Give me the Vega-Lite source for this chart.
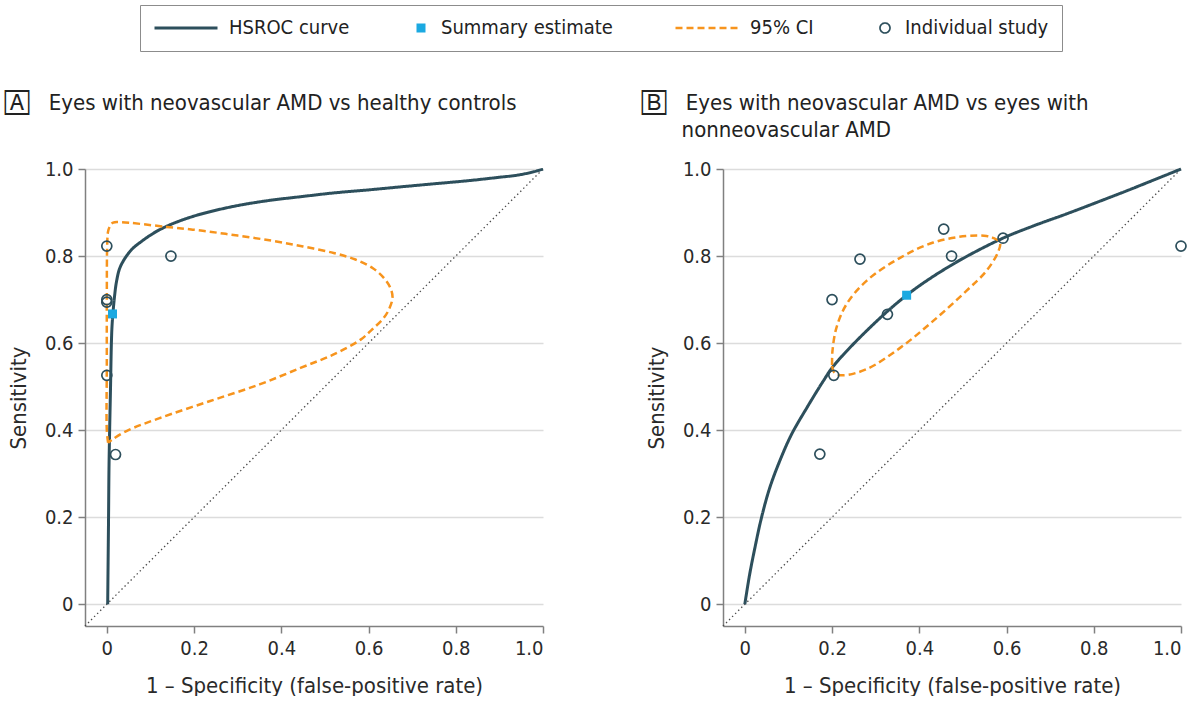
{
  "$schema": "https://vega.github.io/schema/vega-lite/v6.json",
  "background": "white",
  "padding": {"left": 5, "top": 4, "right": 0, "bottom": 0},
  "config": {
    "font": "DejaVu Sans Condensed, DejaVu Sans, sans-serif",
    "view": {"stroke": null},
    "axis": {
      "domainColor": "#808080",
      "domainWidth": 1.5,
      "tickColor": "#808080",
      "tickWidth": 1.5,
      "tickSize": 7,
      "labelFontSize": 20,
      "labelColor": "#2a2a2a",
      "labelPadding": 5,
      "titleFontSize": 22,
      "titleFontWeight": "normal",
      "titleColor": "#2a2a2a",
      "gridColor": "#dcdcdc",
      "gridWidth": 1.5
    },
    "axisX": {"grid": false, "titlePadding": 17},
    "axisY": {"grid": true, "titlePadding": 14},
    "title": {
      "fontSize": 22,
      "fontWeight": "normal",
      "color": "#222222",
      "anchor": "start",
      "frame": "group"
    }
  },
  "data": {
    "values": [
      {"p": "A", "s": "diagonal", "i": 0, "x": -0.05, "y": -0.05},
      {"p": "A", "s": "diagonal", "i": 1, "x": 1, "y": 1},
      {"p": "B", "s": "diagonal", "i": 0, "x": -0.05, "y": -0.05},
      {"p": "B", "s": "diagonal", "i": 1, "x": 1, "y": 1},

      {"p": "A", "s": "HSROC curve", "i": 0, "x": 0.002, "y": 0},
      {"p": "A", "s": "HSROC curve", "i": 1, "x": 0.003, "y": 0.1},
      {"p": "A", "s": "HSROC curve", "i": 2, "x": 0.004, "y": 0.2},
      {"p": "A", "s": "HSROC curve", "i": 3, "x": 0.005, "y": 0.313},
      {"p": "A", "s": "HSROC curve", "i": 4, "x": 0.0065, "y": 0.4},
      {"p": "A", "s": "HSROC curve", "i": 5, "x": 0.0085, "y": 0.497},
      {"p": "A", "s": "HSROC curve", "i": 6, "x": 0.0105, "y": 0.6},
      {"p": "A", "s": "HSROC curve", "i": 7, "x": 0.012, "y": 0.64},
      {"p": "A", "s": "HSROC curve", "i": 8, "x": 0.0145, "y": 0.674},
      {"p": "A", "s": "HSROC curve", "i": 9, "x": 0.018, "y": 0.71},
      {"p": "A", "s": "HSROC curve", "i": 10, "x": 0.022, "y": 0.74},
      {"p": "A", "s": "HSROC curve", "i": 11, "x": 0.03, "y": 0.773},
      {"p": "A", "s": "HSROC curve", "i": 12, "x": 0.045, "y": 0.8},
      {"p": "A", "s": "HSROC curve", "i": 13, "x": 0.06, "y": 0.818},
      {"p": "A", "s": "HSROC curve", "i": 14, "x": 0.08, "y": 0.834},
      {"p": "A", "s": "HSROC curve", "i": 15, "x": 0.1, "y": 0.848},
      {"p": "A", "s": "HSROC curve", "i": 16, "x": 0.122, "y": 0.861},
      {"p": "A", "s": "HSROC curve", "i": 17, "x": 0.16, "y": 0.878},
      {"p": "A", "s": "HSROC curve", "i": 18, "x": 0.214, "y": 0.896},
      {"p": "A", "s": "HSROC curve", "i": 19, "x": 0.29, "y": 0.914},
      {"p": "A", "s": "HSROC curve", "i": 20, "x": 0.367, "y": 0.927},
      {"p": "A", "s": "HSROC curve", "i": 21, "x": 0.45, "y": 0.937},
      {"p": "A", "s": "HSROC curve", "i": 22, "x": 0.52, "y": 0.945},
      {"p": "A", "s": "HSROC curve", "i": 23, "x": 0.6, "y": 0.952},
      {"p": "A", "s": "HSROC curve", "i": 24, "x": 0.674, "y": 0.959},
      {"p": "A", "s": "HSROC curve", "i": 25, "x": 0.75, "y": 0.966},
      {"p": "A", "s": "HSROC curve", "i": 26, "x": 0.827, "y": 0.973},
      {"p": "A", "s": "HSROC curve", "i": 27, "x": 0.9, "y": 0.981},
      {"p": "A", "s": "HSROC curve", "i": 28, "x": 0.942, "y": 0.986},
      {"p": "A", "s": "HSROC curve", "i": 29, "x": 0.98, "y": 0.994},
      {"p": "A", "s": "HSROC curve", "i": 30, "x": 1.0, "y": 1.0},

      {"p": "A", "s": "95% CI", "i": 0, "x": 0.003, "y": 0.371},
      {"p": "A", "s": "95% CI", "i": 1, "x": 0.0, "y": 0.4},
      {"p": "A", "s": "95% CI", "i": 2, "x": 0.0, "y": 0.55},
      {"p": "A", "s": "95% CI", "i": 3, "x": 0.0, "y": 0.7},
      {"p": "A", "s": "95% CI", "i": 4, "x": 0.001, "y": 0.83},
      {"p": "A", "s": "95% CI", "i": 5, "x": 0.003, "y": 0.857},
      {"p": "A", "s": "95% CI", "i": 6, "x": 0.008, "y": 0.87},
      {"p": "A", "s": "95% CI", "i": 7, "x": 0.0145, "y": 0.877},
      {"p": "A", "s": "95% CI", "i": 8, "x": 0.03, "y": 0.878},
      {"p": "A", "s": "95% CI", "i": 9, "x": 0.137, "y": 0.867},
      {"p": "A", "s": "95% CI", "i": 10, "x": 0.22, "y": 0.858},
      {"p": "A", "s": "95% CI", "i": 11, "x": 0.3, "y": 0.847},
      {"p": "A", "s": "95% CI", "i": 12, "x": 0.38, "y": 0.835},
      {"p": "A", "s": "95% CI", "i": 13, "x": 0.45, "y": 0.822},
      {"p": "A", "s": "95% CI", "i": 14, "x": 0.52, "y": 0.807},
      {"p": "A", "s": "95% CI", "i": 15, "x": 0.57, "y": 0.792},
      {"p": "A", "s": "95% CI", "i": 16, "x": 0.61, "y": 0.772},
      {"p": "A", "s": "95% CI", "i": 17, "x": 0.635, "y": 0.75},
      {"p": "A", "s": "95% CI", "i": 18, "x": 0.65, "y": 0.727},
      {"p": "A", "s": "95% CI", "i": 19, "x": 0.655, "y": 0.705},
      {"p": "A", "s": "95% CI", "i": 20, "x": 0.648, "y": 0.68},
      {"p": "A", "s": "95% CI", "i": 21, "x": 0.635, "y": 0.658},
      {"p": "A", "s": "95% CI", "i": 22, "x": 0.61, "y": 0.633},
      {"p": "A", "s": "95% CI", "i": 23, "x": 0.582, "y": 0.608},
      {"p": "A", "s": "95% CI", "i": 24, "x": 0.52, "y": 0.574},
      {"p": "A", "s": "95% CI", "i": 25, "x": 0.444, "y": 0.543},
      {"p": "A", "s": "95% CI", "i": 26, "x": 0.35, "y": 0.505},
      {"p": "A", "s": "95% CI", "i": 27, "x": 0.237, "y": 0.467},
      {"p": "A", "s": "95% CI", "i": 28, "x": 0.122, "y": 0.428},
      {"p": "A", "s": "95% CI", "i": 29, "x": 0.045, "y": 0.398},
      {"p": "A", "s": "95% CI", "i": 30, "x": 0.012, "y": 0.378},
      {"p": "A", "s": "95% CI", "i": 31, "x": 0.003, "y": 0.371},

      {"p": "A", "s": "Individual study", "x": 0.0, "y": 0.823},
      {"p": "A", "s": "Individual study", "x": 0.0, "y": 0.7},
      {"p": "A", "s": "Individual study", "x": 0.0, "y": 0.694},
      {"p": "A", "s": "Individual study", "x": 0.0, "y": 0.526},
      {"p": "A", "s": "Individual study", "x": 0.02, "y": 0.344},
      {"p": "A", "s": "Individual study", "x": 0.147, "y": 0.8},
      {"p": "A", "s": "Summary estimate", "x": 0.013, "y": 0.667},

      {"p": "B", "s": "HSROC curve", "i": 0, "x": 0.0, "y": 0.0},
      {"p": "B", "s": "HSROC curve", "i": 1, "x": 0.011, "y": 0.068},
      {"p": "B", "s": "HSROC curve", "i": 2, "x": 0.023, "y": 0.129},
      {"p": "B", "s": "HSROC curve", "i": 3, "x": 0.038, "y": 0.198},
      {"p": "B", "s": "HSROC curve", "i": 4, "x": 0.057, "y": 0.267},
      {"p": "B", "s": "HSROC curve", "i": 5, "x": 0.08, "y": 0.329},
      {"p": "B", "s": "HSROC curve", "i": 6, "x": 0.107, "y": 0.39},
      {"p": "B", "s": "HSROC curve", "i": 7, "x": 0.142, "y": 0.451},
      {"p": "B", "s": "HSROC curve", "i": 8, "x": 0.18, "y": 0.513},
      {"p": "B", "s": "HSROC curve", "i": 9, "x": 0.203, "y": 0.547},
      {"p": "B", "s": "HSROC curve", "i": 10, "x": 0.279, "y": 0.628},
      {"p": "B", "s": "HSROC curve", "i": 11, "x": 0.371, "y": 0.71},
      {"p": "B", "s": "HSROC curve", "i": 12, "x": 0.47, "y": 0.777},
      {"p": "B", "s": "HSROC curve", "i": 13, "x": 0.585, "y": 0.838},
      {"p": "B", "s": "HSROC curve", "i": 14, "x": 0.661, "y": 0.869},
      {"p": "B", "s": "HSROC curve", "i": 15, "x": 0.738, "y": 0.897},
      {"p": "B", "s": "HSROC curve", "i": 16, "x": 0.814, "y": 0.926},
      {"p": "B", "s": "HSROC curve", "i": 17, "x": 0.891, "y": 0.956},
      {"p": "B", "s": "HSROC curve", "i": 18, "x": 1.0, "y": 1.0},

      {"p": "B", "s": "95% CI", "i": 0, "x": 0.2, "y": 0.547},
      {"p": "B", "s": "95% CI", "i": 1, "x": 0.206, "y": 0.531},
      {"p": "B", "s": "95% CI", "i": 2, "x": 0.225, "y": 0.526},
      {"p": "B", "s": "95% CI", "i": 3, "x": 0.279, "y": 0.54},
      {"p": "B", "s": "95% CI", "i": 4, "x": 0.356, "y": 0.589},
      {"p": "B", "s": "95% CI", "i": 5, "x": 0.432, "y": 0.651},
      {"p": "B", "s": "95% CI", "i": 6, "x": 0.508, "y": 0.72},
      {"p": "B", "s": "95% CI", "i": 7, "x": 0.554, "y": 0.766},
      {"p": "B", "s": "95% CI", "i": 8, "x": 0.581, "y": 0.81},
      {"p": "B", "s": "95% CI", "i": 9, "x": 0.585, "y": 0.831},
      {"p": "B", "s": "95% CI", "i": 10, "x": 0.569, "y": 0.842},
      {"p": "B", "s": "95% CI", "i": 11, "x": 0.554, "y": 0.846},
      {"p": "B", "s": "95% CI", "i": 12, "x": 0.508, "y": 0.846},
      {"p": "B", "s": "95% CI", "i": 13, "x": 0.432, "y": 0.831},
      {"p": "B", "s": "95% CI", "i": 14, "x": 0.356, "y": 0.796},
      {"p": "B", "s": "95% CI", "i": 15, "x": 0.279, "y": 0.743},
      {"p": "B", "s": "95% CI", "i": 16, "x": 0.233, "y": 0.689},
      {"p": "B", "s": "95% CI", "i": 17, "x": 0.21, "y": 0.635},
      {"p": "B", "s": "95% CI", "i": 18, "x": 0.201, "y": 0.582},
      {"p": "B", "s": "95% CI", "i": 19, "x": 0.2, "y": 0.547},

      {"p": "B", "s": "Individual study", "x": 0.2, "y": 0.7},
      {"p": "B", "s": "Individual study", "x": 0.264, "y": 0.793},
      {"p": "B", "s": "Individual study", "x": 0.204, "y": 0.526},
      {"p": "B", "s": "Individual study", "x": 0.327, "y": 0.666},
      {"p": "B", "s": "Individual study", "x": 0.456, "y": 0.862},
      {"p": "B", "s": "Individual study", "x": 0.474, "y": 0.8},
      {"p": "B", "s": "Individual study", "x": 0.592, "y": 0.841},
      {"p": "B", "s": "Individual study", "x": 0.172, "y": 0.345},
      {"p": "B", "s": "Individual study", "x": 1.0, "y": 0.823},
      {"p": "B", "s": "Summary estimate", "x": 0.371, "y": 0.71}
    ]
  },
  "bounds": "flush",
  "spacing": 180,
  "hconcat": [
    {
      "width": 458,
      "height": 457,
      "title": {"text": "🄰\u2003Eyes with neovascular AMD vs healthy controls", "dx": -80, "offset": 44},
      "transform": [{"filter": "datum.p === 'A'"}],
      "encoding": {
        "x": {"field": "x", "type": "quantitative", "scale": {"domain": [-0.05, 1], "nice": false, "zero": false},
              "axis": {"title": "1 – Specificity (false-positive rate)", "values": [0, 0.2, 0.4, 0.6, 0.8, 1], "labelExpr": "datum.value === 0 ? '0' : format(datum.value, '.1f')"}},
        "y": {"field": "y", "type": "quantitative", "scale": {"domain": [-0.05, 1], "nice": false, "zero": false},
              "axis": {"title": "Sensitivity", "values": [0, 0.2, 0.4, 0.6, 0.8, 1], "labelExpr": "datum.value === 0 ? '0' : format(datum.value, '.1f')"}}
      },
      "layer": [
        {
          "transform": [{"filter": "datum.s === 'diagonal'"}],
          "mark": {"type": "line", "color": "#4a4a4a", "strokeWidth": 1.3, "strokeDash": [1.4, 2.9]},
          "encoding": {"order": {"field": "i", "type": "quantitative"}}
        },
        {
          "transform": [{"filter": "datum.s === 'HSROC curve' || datum.s === '95% CI'"}],
          "mark": {"type": "line", "interpolate": "catmull-rom"},
          "encoding": {
            "order": {"field": "i", "type": "quantitative"},
            "stroke": {"field": "s", "type": "nominal",
                       "scale": {"domain": ["HSROC curve", "Summary estimate", "95% CI", "Individual study"], "range": ["#2d4f5c", "#1ba9e1", "#f7941d", "#2d4f5c"]},
                       "legend": {"title": null, "orient": "none", "legendX": 55, "legendY": -164, "direction": "horizontal",
                                  "padding": 13, "columnPadding": 61, "labelOffset": 10, "clipHeight": 20, "labelLimit": 400,
                                  "labelFontSize": 20, "labelColor": "#222222", "strokeColor": "#8c8c8c", "fillColor": "white"}},
            "strokeDash": {"field": "s", "type": "nominal",
                           "scale": {"domain": ["HSROC curve", "Summary estimate", "95% CI", "Individual study"], "range": [[1, 0], [1, 0], [7, 4], [1, 0]]}},
            "strokeWidth": {"field": "s", "type": "nominal",
                            "scale": {"type": "ordinal", "domain": ["HSROC curve", "Summary estimate", "95% CI", "Individual study"], "range": [3, 0, 2.5, 1.7]}}
          }
        },
        {
          "transform": [{"filter": "datum.s === 'Individual study' || datum.s === 'Summary estimate'"}],
          "mark": {"type": "point", "opacity": 1},
          "encoding": {
            "stroke": {"field": "s", "type": "nominal"},
            "strokeWidth": {"field": "s", "type": "nominal",
                            "scale": {"type": "ordinal", "domain": ["HSROC curve", "Summary estimate", "95% CI", "Individual study"], "range": [3, 0, 2.5, 1.7]}},
            "fill": {"field": "s", "type": "nominal",
                     "scale": {"domain": ["HSROC curve", "Summary estimate", "95% CI", "Individual study"], "range": ["transparent", "#1ba9e1", "transparent", "transparent"]}},
            "shape": {"field": "s", "type": "nominal",
                      "scale": {"domain": ["HSROC curve", "Summary estimate", "95% CI", "Individual study"], "range": ["stroke", "square", "stroke", "circle"]}},
            "size": {"field": "s", "type": "nominal",
                     "scale": {"type": "ordinal", "domain": ["HSROC curve", "Summary estimate", "95% CI", "Individual study"], "range": [3969, 81, 3969, 100]}}
          }
        }
      ]
    },
    {
      "width": 458,
      "height": 457,
      "title": {"text": ["🄱\u2003Eyes with neovascular AMD vs eyes with", "\u200d\u2003\u2003nonneovascular AMD"], "dx": -81, "offset": 17, "lineHeight": 27},
      "transform": [{"filter": "datum.p === 'B'"}],
      "encoding": {
        "x": {"field": "x", "type": "quantitative", "scale": {"domain": [-0.05, 1], "nice": false, "zero": false},
              "axis": {"title": "1 – Specificity (false-positive rate)", "values": [0, 0.2, 0.4, 0.6, 0.8, 1], "labelExpr": "datum.value === 0 ? '0' : format(datum.value, '.1f')"}},
        "y": {"field": "y", "type": "quantitative", "scale": {"domain": [-0.05, 1], "nice": false, "zero": false},
              "axis": {"title": "Sensitivity", "values": [0, 0.2, 0.4, 0.6, 0.8, 1], "labelExpr": "datum.value === 0 ? '0' : format(datum.value, '.1f')"}}
      },
      "layer": [
        {
          "transform": [{"filter": "datum.s === 'diagonal'"}],
          "mark": {"type": "line", "color": "#4a4a4a", "strokeWidth": 1.3, "strokeDash": [1.4, 2.9]},
          "encoding": {"order": {"field": "i", "type": "quantitative"}}
        },
        {
          "transform": [{"filter": "datum.s === 'HSROC curve' || datum.s === '95% CI'"}],
          "mark": {"type": "line", "interpolate": "catmull-rom"},
          "encoding": {
            "order": {"field": "i", "type": "quantitative"},
            "stroke": {"field": "s", "type": "nominal",
                       "scale": {"domain": ["HSROC curve", "Summary estimate", "95% CI", "Individual study"], "range": ["#2d4f5c", "#1ba9e1", "#f7941d", "#2d4f5c"]}},
            "strokeDash": {"field": "s", "type": "nominal",
                           "scale": {"domain": ["HSROC curve", "Summary estimate", "95% CI", "Individual study"], "range": [[1, 0], [1, 0], [7, 4], [1, 0]]}},
            "strokeWidth": {"field": "s", "type": "nominal",
                            "scale": {"type": "ordinal", "domain": ["HSROC curve", "Summary estimate", "95% CI", "Individual study"], "range": [3, 0, 2.5, 1.7]}}
          }
        },
        {
          "transform": [{"filter": "datum.s === 'Individual study' || datum.s === 'Summary estimate'"}],
          "mark": {"type": "point", "opacity": 1},
          "encoding": {
            "stroke": {"field": "s", "type": "nominal",
                       "scale": {"domain": ["HSROC curve", "Summary estimate", "95% CI", "Individual study"], "range": ["#2d4f5c", "#1ba9e1", "#f7941d", "#2d4f5c"]}},
            "strokeWidth": {"field": "s", "type": "nominal",
                            "scale": {"type": "ordinal", "domain": ["HSROC curve", "Summary estimate", "95% CI", "Individual study"], "range": [3, 0, 2.5, 1.7]}},
            "fill": {"field": "s", "type": "nominal",
                     "scale": {"domain": ["HSROC curve", "Summary estimate", "95% CI", "Individual study"], "range": ["transparent", "#1ba9e1", "transparent", "transparent"]}},
            "shape": {"field": "s", "type": "nominal",
                      "scale": {"domain": ["HSROC curve", "Summary estimate", "95% CI", "Individual study"], "range": ["stroke", "square", "stroke", "circle"]}},
            "size": {"field": "s", "type": "nominal",
                     "scale": {"type": "ordinal", "domain": ["HSROC curve", "Summary estimate", "95% CI", "Individual study"], "range": [3969, 81, 3969, 100]}}
          }
        }
      ]
    }
  ]
}
